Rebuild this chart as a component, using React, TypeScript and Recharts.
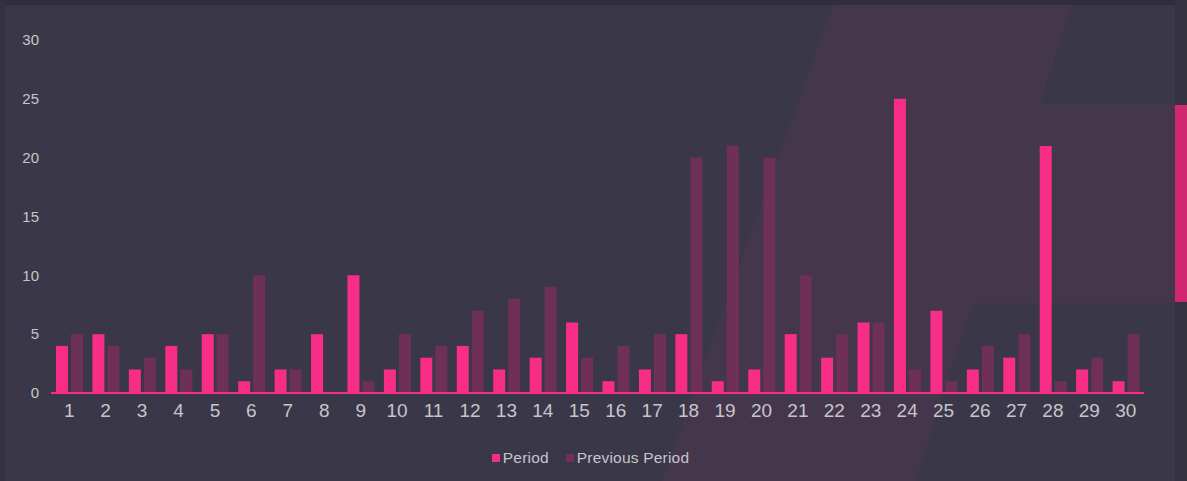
import React from 'react';
import { BarChart, Bar, XAxis, YAxis, Legend } from 'recharts';

const days = [
  '1', '2', '3', '4', '5', '6', '7', '8', '9', '10',
  '11', '12', '13', '14', '15', '16', '17', '18', '19', '20',
  '21', '22', '23', '24', '25', '26', '27', '28', '29', '30',
];
const period = [4, 5, 2, 4, 5, 1, 2, 5, 10, 2, 3, 4, 2, 3, 6, 1, 2, 5, 1, 2, 5, 3, 6, 25, 7, 2, 3, 21, 2, 1];
const previousPeriod = [5, 4, 3, 2, 5, 10, 2, 0, 1, 5, 4, 7, 8, 9, 3, 4, 5, 20, 21, 20, 10, 5, 6, 2, 1, 4, 5, 1, 3, 5];
const yTicks = [0, 5, 10, 15, 20, 25, 30];

const PINK = '#f72d87';
const PLUM = '#6e3058';
const TEXT = '#c6c5cc';

const data = days.map((d, i) => ({ day: d, period: period[i], previous: previousPeriod[i] }));

// legend: small squares hugging the labels
const LegendContent = (props: any) => {
  const items = props.payload || [];
  return (
    <div style={{ display: 'flex', justifyContent: 'center', paddingLeft: 36, alignItems: 'center', height: 18 }}>
      {items.map((it: any, i: number) => (
        <div key={i} style={{ display: 'flex', alignItems: 'center', marginRight: i < items.length - 1 ? 17 : 0 }}>
          <span style={{ display: 'inline-block', width: 8, height: 8, background: it.color, marginRight: 3 }} />
          <span style={{ color: TEXT, fontSize: 15.5, lineHeight: '18px', letterSpacing: 0.2 }}>{it.value}</span>
        </div>
      ))}
    </div>
  );
};

export default function App() {
  return (
    <div style={{ position: 'absolute', left: 0, top: 0, width: 1187, height: 481, background: '#3a3848', overflow: 'hidden', fontFamily: '"Liberation Sans", Arial, sans-serif' }}>
      {/* decorative backdrop */}
      <svg width={1187} height={481} style={{ position: 'absolute', left: 0, top: 0 }}>
        <polygon points="835,0 1073,0 1040,104 1175,104 1175,303 973,303 915,481 662,481" fill="#45374b" />
        <rect x={0} y={0} width={1187} height={5} fill="#302e3b" />
        <rect x={0} y={0} width={5} height={481} fill="#34323f" />
        <rect x={1175} y={0} width={12} height={481} fill="#34323f" />
        <rect x={1175} y={105} width={12} height={197} fill="#d0286e" />
      </svg>
      <div style={{ position: 'absolute', left: 0, top: 0 }}>
        <BarChart
          width={1187}
          height={481}
          data={data}
          margin={{ top: 40, right: 43, left: 1, bottom: 4 }}
          barSize={12}
          barGap={3}
        >
          <XAxis
            dataKey="day"
            height={56}
            tickLine={false}
            tickSize={0}
            tickMargin={11}
            axisLine={{ stroke: PINK, strokeWidth: 2 }}
            tick={{ fill: TEXT, fontSize: 19 }}
            interval={0}
          />
          <YAxis
            width={50}
            domain={[0, 30]}
            ticks={yTicks}
            axisLine={false}
            tickLine={false}
            tickSize={0}
            tickMargin={12}
            tick={{ fill: TEXT, fontSize: 15 }}
          />
          <Legend height={28} content={<LegendContent />} />
          <Bar dataKey="period" name="Period" fill={PINK} isAnimationActive={false} />
          <Bar dataKey="previous" name="Previous Period" fill={PLUM} isAnimationActive={false} />
        </BarChart>
      </div>
    </div>
  );
}
